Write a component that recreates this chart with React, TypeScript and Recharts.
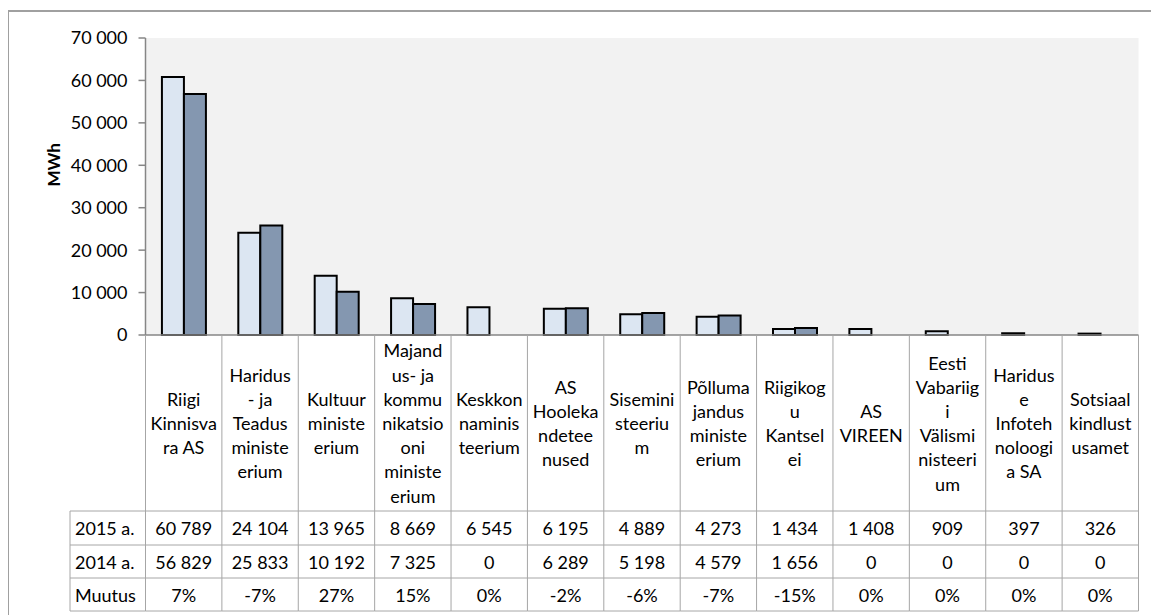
import { BarChart, Bar, XAxis, YAxis, CartesianGrid, Label } from 'recharts'

const categories = [
  'Riigi Kinnisvara AS',
  'Haridus- ja Teadusministeerium',
  'Kultuuriministeerium',
  'Majandus- ja kommunikatsiooniministeerium',
  'Keskkonnaministeerium',
  'AS Hoolekandeteenused',
  'Siseministeerium',
  'Põllumajandusministeerium',
  'Riigikogu Kantselei',
  'AS VIREEN',
  'Eesti Vabariigi Välisministeerium',
  'Hariduse Infotehnoloogia SA',
  'Sotsiaalkindlustusamet',
]

// wrapped the way the source table wraps them
const labelLines = [
  ['Riigi', 'Kinnisva', 'ra AS'],
  ['Haridus', '- ja', 'Teadus', 'ministe', 'erium'],
  ['Kultuur', 'ministe', 'erium'],
  ['Majand', 'us- ja', 'kommu', 'nikatsio', 'oni', 'ministe', 'erium'],
  ['Keskkon', 'naminis', 'teerium'],
  ['AS', 'Hooleka', 'ndetee', 'nused'],
  ['Sisemini', 'steeriu', 'm'],
  ['Põlluma', 'jandus', 'ministe', 'erium'],
  ['Riigikog', 'u', 'Kantsel', 'ei'],
  ['AS', 'VIREEN'],
  ['Eesti', 'Vabariig', 'i', 'Välismi', 'nisteeri', 'um'],
  ['Haridus', 'e', 'Infoteh', 'noloogi', 'a SA'],
  ['Sotsiaal', 'kindlust', 'usamet'],
]

const v2015 = [60789, 24104, 13965, 8669, 6545, 6195, 4889, 4273, 1434, 1408, 909, 397, 326]
const v2014 = [56829, 25833, 10192, 7325, 0, 6289, 5198, 4579, 1656, 0, 0, 0, 0]
const change = ['7%', '-7%', '27%', '15%', '0%', '-2%', '-6%', '-7%', '-15%', '0%', '0%', '0%', '0%']
const rowNames = ['2015 a.', '2014 a.', 'Muutus']
const yTicks = [0, 10000, 20000, 30000, 40000, 50000, 60000, 70000]

const data = categories.map((name, i) => ({ name, i, y2015: v2015[i], y2014: v2014[i] }))

const W = 1151
const H = 615
const PLOT_LEFT = 145.5
const PLOT_RIGHT = 1138.5
const PLOT_TOP = 38
const PLOT_BOTTOM = 335
const BAND = (PLOT_RIGHT - PLOT_LEFT) / categories.length
const ROW_Y = [511, 545, 578, 611]
const HEAD_LEFT = 70
const GRID = '#a6a6a6'
const FONT = 'Lato, "Open Sans", sans-serif'

const fmt = (v: number) => String(v).replace(/\B(?=(\d{3})+(?!\d))/g, ' ')

function TableTick(props: any) {
  const { x, payload } = props
  const i: number = props.index ?? payload.index
  const left = x - BAND / 2
  const right = x + BAND / 2
  const lines = labelLines[i]
  const lh = 24.2
  const mid = (PLOT_BOTTOM + ROW_Y[0]) / 2
  const firstY = mid - ((lines.length - 1) * lh) / 2
  const cells = [fmt(v2015[i]), fmt(v2014[i]), change[i]]
  return (
    <g>
      <line x1={left} x2={left} y1={PLOT_BOTTOM} y2={ROW_Y[3]} stroke={GRID} />
      {i === categories.length - 1 && <line x1={right} x2={right} y1={PLOT_BOTTOM} y2={ROW_Y[3]} stroke={GRID} />}
      {ROW_Y.map(y => <line key={y} x1={left} x2={right} y1={y} y2={y} stroke={GRID} />)}
      {lines.map((t, k) => (
        <text key={k} x={x} y={firstY + k * lh} textAnchor="middle" dominantBaseline="central" fontSize={18} fill="#000">{t}</text>
      ))}
      {cells.map((t, k) => (
        <text key={k} x={x} y={(ROW_Y[k] + ROW_Y[k + 1]) / 2} textAnchor="middle" dominantBaseline="central" fontSize={18} fill="#000">{t}</text>
      ))}
      {i === 0 && (
        <g>
          <line x1={HEAD_LEFT} x2={HEAD_LEFT} y1={ROW_Y[0]} y2={ROW_Y[3]} stroke={GRID} />
          {ROW_Y.map(y => <line key={y} x1={HEAD_LEFT} x2={left} y1={y} y2={y} stroke={GRID} />)}
          {rowNames.map((t, k) => (
            <text key={t} x={HEAD_LEFT + 5} y={(ROW_Y[k] + ROW_Y[k + 1]) / 2} dominantBaseline="central" fontSize={18} fill="#000">{t}</text>
          ))}
        </g>
      )}
    </g>
  )
}

export default function App() {
  return (
    <div style={{ position: 'relative', width: W, height: H, overflow: 'hidden', background: '#fff' }}>
      <style>{'body{margin:0}'}</style>
      <div style={{ position: 'absolute', left: 8, top: 10, width: W, height: H, borderLeft: '1px solid #a0a0a0', borderTop: '2px solid #a0a0a0' }} />
      <BarChart
        width={W}
        height={H}
        data={data}
        margin={{ top: PLOT_TOP, right: W - PLOT_RIGHT, bottom: 0, left: 0 }}
        barCategoryGap="21.5%"
        barGap={0}
        style={{ fontFamily: FONT, position: 'absolute', left: 0, top: 0 }}
      >
        <CartesianGrid horizontal={false} vertical={false} fill="#f2f2f2" />
        <XAxis
          dataKey="name"
          height={H - PLOT_BOTTOM}
          interval={0}
          tickLine={false}
          axisLine={{ stroke: '#868686', strokeWidth: 1.5 }}
          tick={<TableTick />}
        />
        <YAxis
          width={PLOT_LEFT}
          domain={[0, 70000]}
          ticks={yTicks}
          tickFormatter={fmt}
          tickSize={7}
          tickMargin={11}
          axisLine={{ stroke: '#868686', strokeWidth: 1.5 }}
          tickLine={{ stroke: '#868686', strokeWidth: 1.5 }}
          tick={{ fill: '#000', fontSize: 18 }}
        >
          <Label value="MWh" angle={-90} position="insideLeft" offset={54} style={{ fontWeight: 'bold', fontSize: 17, fill: '#000' }} />
        </YAxis>
        <Bar dataKey="y2015" fill="#dce6f2" stroke="#000" strokeWidth={2} isAnimationActive={false} />
        <Bar dataKey="y2014" fill="#8497b0" stroke="#000" strokeWidth={2} isAnimationActive={false} />
      </BarChart>
    </div>
  )
}
